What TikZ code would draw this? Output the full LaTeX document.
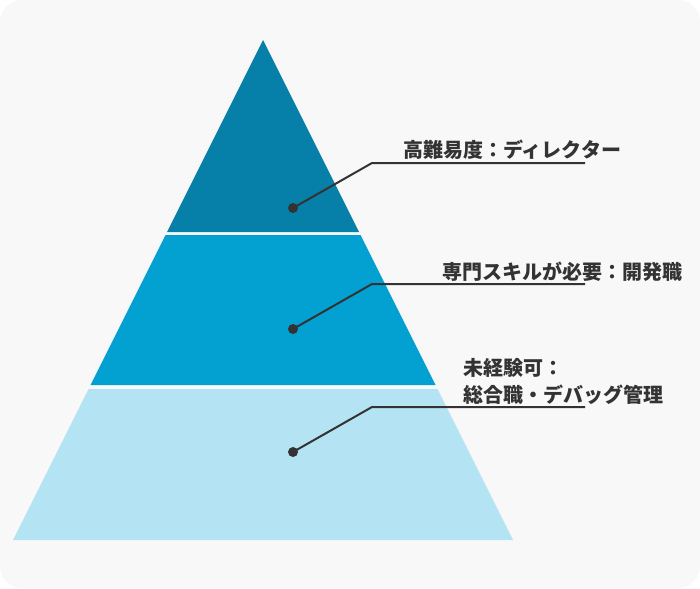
\documentclass[tikz,border=0pt]{standalone}
\usepackage{fontspec}
\newfontfamily\jp{Noto Sans CJK JP}
\definecolor{bgc}{HTML}{F8F8F9}
\definecolor{topc}{HTML}{0780A9}
\definecolor{midc}{HTML}{03A0D2}
\definecolor{botc}{HTML}{B4E4F4}
\definecolor{txt}{HTML}{333333}
\tikzset{
  lbl/.style={anchor=west, inner sep=0pt, text=txt, font=\jp\bfseries\fontsize{20}{27}\selectfont, align=left},
  dotc/.style={circle, fill=txt, inner sep=0pt, minimum size=10pt},
  leader/.style={draw=txt, line width=2pt},
}
\begin{document}
\begin{tikzpicture}[x=1pt,y=-1pt]
\useasboundingbox (0,0) rectangle (700,588);
\fill[white] (0,0) rectangle (700,588);
\fill[bgc, rounded corners=22pt] (0,0) rectangle (700,588);
% bands
\fill[topc] (263,40) -- (359,232) -- (167,232) -- cycle;
\fill[midc] (165.5,235) -- (360.5,235) -- (435.5,385) -- (90.5,385) -- cycle;
\fill[botc] (88.5,389) -- (437.5,389) -- (513,540) -- (13,540) -- cycle;
% labels
\node[lbl] (t1) at (403,150) {高難易度：ディレクター};
\node[lbl] (t2) at (442,272) {専門スキルが必要：開発職};
\node[lbl] (t3) at (463,381) {未経験可：\\総合職・デバッグ管理};
% leaders
\node[dotc] (d1) at (293,208) {};
\node[dotc] (d2) at (293,329) {};
\node[dotc] (d3) at (293,452) {};
\coordinate (b1) at (372,163);
\coordinate (e1) at (585,163);
\coordinate (b2) at (372,284);
\coordinate (e2) at (585,284);
\coordinate (b3) at (372,407);
\coordinate (e3) at (585,407);
\draw[leader] (d1.center) -- (b1) -- (e1);
\draw[leader] (d2.center) -- (b2) -- (e2);
\draw[leader] (d3.center) -- (b3) -- (e3);
\end{tikzpicture}
\end{document}
